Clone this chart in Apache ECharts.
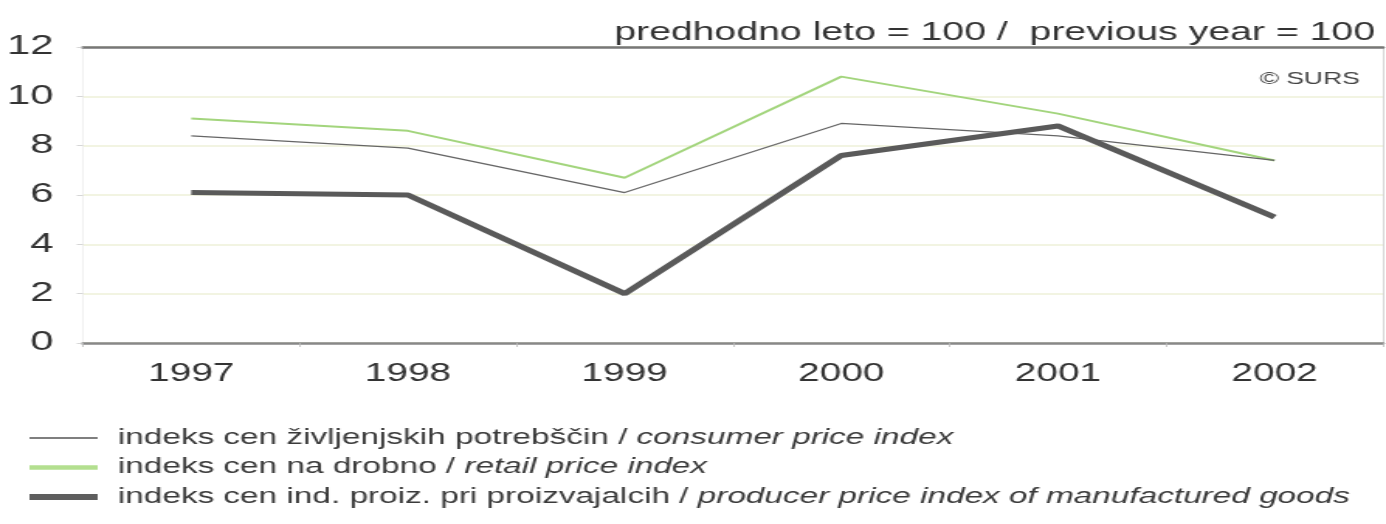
<!DOCTYPE html>
<html>
<head>
<meta charset="utf-8">
<script src="https://cdn.jsdelivr.net/npm/echarts@6/dist/echarts.min.js"></script>
<style>
  html, body { margin: 0; padding: 0; background: #fff; overflow: hidden; }
  /* the scanned original is stretched sideways, so the chart is too */
  #chart { width: 894px; height: 524px; transform: scaleX(1.5503); transform-origin: 0 0; }
</style>
</head>
<body>
<div id="chart"></div>
<script>
// leta
const years = ["1997", "1998", "1999", "2000", "2001", "2002"];
// indeks cen življenjskih potrebščin
const consumer = [8.4, 7.9, 6.1, 8.9, 8.4, 7.4];
// indeks cen na drobno
const retail = [9.1, 8.6, 6.7, 10.8, 9.3, 7.4];
// indeks cen ind. proiz. pri proizvajalcih
const producer = [6.1, 6.0, 2.0, 7.6, 8.8, 5.1];

const names = [
  "indeks cen življenjskih potrebščin / consumer price index",
  "indeks cen na drobno / retail price index",
  "indeks cen ind. proiz. pri proizvajalcih / producer price index of manufactured goods",
];

const font = "Liberation Sans";
const chart = echarts.init(document.getElementById("chart"));

const option = {
  backgroundColor: "#fff",
  animation: false,
  textStyle: { fontFamily: font },
  title: [
    {
      text: "predhodno leto = 100 /  previous year = 100",
      right: 2,
      top: 16,
      textStyle: { fontFamily: font, fontSize: 25.3, fontWeight: "normal", color: "#333" },
    },
    {
      text: "© SURS",
      right: 12,
      top: 66,
      textStyle: { fontFamily: font, fontSize: 17, fontWeight: "normal", color: "#444" },
    },
  ],
  grid: { left: 53.5, right: 2, top: 47, bottom: 181 },
  legend: {
    orient: "vertical",
    left: 14,
    top: 422,
    itemWidth: 44,
    itemHeight: 6,
    itemGap: 7.5,
    selectedMode: false,
    formatter: (name) => {
      const parts = name.split(" / ");
      return "{n|" + parts[0] + " / }{i|" + parts[1] + "}";
    },
    textStyle: {
      rich: {
        n: { fontFamily: font, fontSize: 21.5, lineHeight: 22, color: "#3a3a3a", padding: [0, 0, 0, 8] },
        i: { fontFamily: font, fontSize: 21.5, lineHeight: 22, color: "#3a3a3a", fontStyle: "italic" },
      },
    },
    data: [
      { name: names[0], icon: "path://M0,0 H44 V1.4 H0 Z", itemStyle: { color: "#555" } },
      { name: names[1], icon: "path://M0,0 H44 V4.5 H0 Z", itemStyle: { color: "#b3df8f" } },
      { name: names[2], icon: "path://M0,0 H44 V6 H0 Z", itemStyle: { color: "#5e5e5e" } },
    ],
  },
  xAxis: [
    {
      type: "category",
      data: years,
      boundaryGap: true,
      axisLine: { lineStyle: { color: "#888", width: 2.5 } },
      axisTick: { show: true, length: 4, lineStyle: { color: "#bbb", width: 0.8 } },
      axisLabel: { fontFamily: font, fontSize: 25, color: "#333", margin: 19 },
      splitLine: { show: false },
    },
    {
      type: "category",
      data: years,
      position: "top",
      axisLine: { onZero: false, lineStyle: { color: "#777", width: 2.5 } },
      axisTick: { show: false },
      axisLabel: { show: false },
    },
  ],
  yAxis: [
    {
      type: "value",
      min: 0,
      max: 12,
      interval: 2,
      axisLine: { show: true, lineStyle: { color: "#eee", width: 0.8 } },
      axisTick: { show: true, length: 4, lineStyle: { color: "#ccc", width: 0.8 } },
      axisLabel: { fontFamily: font, fontSize: 27, color: "#333", margin: 19 },
      splitLine: { lineStyle: { color: "#eef0d8", width: 1.5 } },
    },
    {
      type: "value",
      min: 0,
      max: 12,
      interval: 2,
      position: "right",
      axisLine: { show: true, onZero: false, lineStyle: { color: "#ccc", width: 0.8 } },
      axisTick: { show: false },
      axisLabel: { show: false },
      splitLine: { show: false },
    },
  ],
  series: [
    {
      name: names[0],
      type: "line",
      data: consumer,
      symbol: "none",
      lineStyle: { color: "#666", width: 1.3 },
      itemStyle: { color: "#555" },
      z: 3,
    },
    {
      name: names[1],
      type: "line",
      data: retail,
      symbol: "none",
      lineStyle: { color: "#a3d57d", width: 2 },
      itemStyle: { color: "#b3df8f" },
      z: 2,
    },
    {
      name: names[2],
      type: "line",
      data: producer,
      symbol: "none",
      lineStyle: { color: "#5a5a5a", width: 5 },
      itemStyle: { color: "#5e5e5e" },
      z: 4,
    },
  ],
};

chart.setOption(option);
</script>
</body>
</html>
